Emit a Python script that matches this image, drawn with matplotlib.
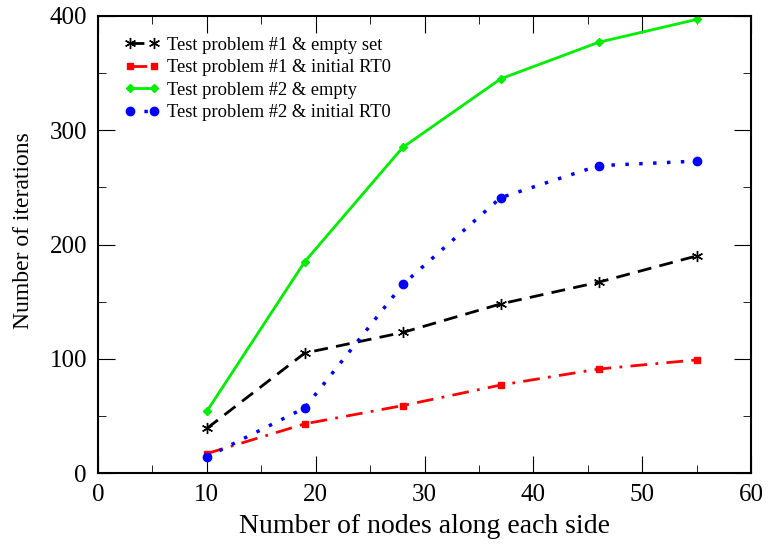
import matplotlib.pyplot as plt
from matplotlib.ticker import MultipleLocator

plt.rcParams['font.family'] = ['Liberation Serif', 'DejaVu Serif']

nodes = [10, 19, 28, 37, 46, 55]
p1_empty = [39, 105, 123, 148, 167, 190]
p1_rt0 = [17, 43, 59, 77, 91, 99]
p2_empty = [54, 185, 285, 345, 377, 397]
p2_rt0 = [14, 57, 165, 241, 269, 273]

fig = plt.figure(figsize=(7.69, 5.49), dpi=100)
ax = fig.add_axes([98 / 769, 1 - 473 / 549, 653 / 769, 457 / 549])

ax.plot(nodes, p1_empty, color='black', linestyle=(0, (5, 3)), linewidth=2,
        marker=(6, 2, 0), markersize=8, label='Test problem #1 & empty set')
ax.plot(nodes, p1_rt0, color='red', linestyle=(0, (6, 3, 1, 3)), linewidth=2,
        marker='s', markersize=5, label='Test problem #1 & initial RT0')
ax.plot(nodes, p2_empty, color='#00ee00', linestyle='-', linewidth=2,
        marker='D', markersize=4, label='Test problem #2 & empty')
ax.plot(nodes, p2_rt0, color='blue', linestyle=(0, (1, 3)), linewidth=2.5,
        marker='o', markersize=6, label='Test problem #2 & initial RT0')

ax.set_xlim(0, 60)
ax.set_ylim(0, 400)
ax.xaxis.set_major_locator(MultipleLocator(10))
ax.xaxis.set_minor_locator(MultipleLocator(5))
ax.yaxis.set_major_locator(MultipleLocator(100))
ax.yaxis.set_minor_locator(MultipleLocator(50))
ax.tick_params(which='both', direction='in', top=True, right=True, labelsize=18, pad=8)
ax.tick_params(which='major', length=12)
ax.tick_params(which='minor', length=6)
for s in ax.spines.values():
    s.set_linewidth(1.5)

ax.set_xlabel('Number of nodes along each side', fontsize=20, labelpad=6)
ax.set_ylabel('Number of iterations', fontsize=17)
ax.yaxis.set_label_coords(-0.098, 0.53)

ax.legend(loc='upper left', frameon=False, fontsize=13.3, handlelength=1.9,
          handletextpad=0.4, numpoints=2, labelspacing=0.3,
          bbox_to_anchor=(108 / 769, 1 - 20 / 549), bbox_transform=fig.transFigure)

fig.savefig('out.png', dpi=100)
